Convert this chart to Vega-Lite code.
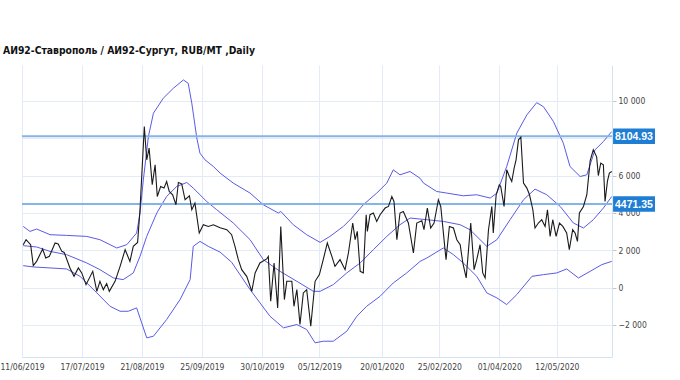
{
  "$schema": "https://vega.github.io/schema/vega-lite/v6.json",
  "width": 590,
  "height": 292,
  "autosize": {"type": "none"},
  "padding": {"left": 22, "top": 65, "right": 68, "bottom": 23},
  "background": "white",
  "config": {"view": {"stroke": null}, "font": "DejaVu Sans Condensed, Liberation Sans, sans-serif"},
  "title": {"text": "АИ92-Ставрополь / АИ92-Сургут,  RUB/MT ,Daily", "anchor": "start", "frame": "group", "dx": -19, "offset": 9, "fontSize": 10.3, "fontWeight": "bold", "color": "#111", "font": "DejaVu Sans Condensed, Liberation Sans, sans-serif"},
  "datasets": {
    "price": [
      {"i":0.5,"v":2298},{"i":1.7,"v":2566},{"i":3.6,"v":2298},{"i":4.7,"v":1176},{"i":6.1,"v":1406},{"i":8.6,"v":2068},{"i":9.9,"v":1587},{"i":11.4,"v":1673},{"i":13.8,"v":2389},{"i":15.1,"v":2336},{"i":16.6,"v":1940},{"i":17.6,"v":1887},{"i":20,"v":1053},{"i":21.7,"v":604},{"i":23.5,"v":1053},{"i":24.9,"v":786},{"i":26.7,"v":160},{"i":29.5,"v":871},{"i":31.2,"v":-198},{"i":32.5,"v":337},{"i":33.9,"v":-107},{"i":35.3,"v":214},{"i":36.4,"v":-198},{"i":38.8,"v":337},{"i":40.9,"v":1139},{"i":43,"v":2031},{"i":45,"v":1406},{"i":46.4,"v":2208},{"i":48.2,"v":2421},{"i":49.2,"v":4169},{"i":51,"v":8622},{"i":52,"v":6842},{"i":53,"v":7467},{"i":54.3,"v":5505},{"i":55.5,"v":6574},{"i":56.4,"v":4880},{"i":57.8,"v":5414},{"i":59.2,"v":5329},{"i":60.3,"v":5682},{"i":61.4,"v":5147},{"i":62.8,"v":4971},{"i":64.2,"v":4436},{"i":65.2,"v":5628},{"i":66.6,"v":5559},{"i":68,"v":4704},{"i":69.8,"v":4917},{"i":70.8,"v":4169},{"i":72.1,"v":4527},{"i":72.9,"v":3811},{"i":73.9,"v":2924},{"i":75.6,"v":3367},{"i":77.7,"v":3276},{"i":79.8,"v":3367},{"i":82.6,"v":3200},{"i":85.4,"v":3100},{"i":87.4,"v":2833},{"i":88.8,"v":2208},{"i":90.2,"v":1497},{"i":91.6,"v":962},{"i":93.7,"v":604},{"i":95.8,"v":-198},{"i":97.2,"v":786},{"i":99.2,"v":1320},{"i":102,"v":1534},{"i":102.7,"v":1673},{"i":103.7,"v":-732},{"i":105.1,"v":1320},{"i":106.6,"v":-1085},{"i":107.9,"v":3276},{"i":109.4,"v":-641},{"i":110.4,"v":337},{"i":112.5,"v":337},{"i":113.4,"v":-1000},{"i":114.6,"v":-107},{"i":115.9,"v":-1978},{"i":117.3,"v":-283},{"i":118.7,"v":-107},{"i":120.4,"v":-2068},{"i":122.2,"v":337},{"i":124,"v":695},{"i":125.6,"v":1497},{"i":127.3,"v":2389},{"i":129.2,"v":1673},{"i":130.5,"v":1139},{"i":132.6,"v":1497},{"i":134.7,"v":962},{"i":136.1,"v":1853},{"i":137.9,"v":3458},{"i":138.9,"v":2566},{"i":139.8,"v":3009},{"i":141,"v":871},{"i":142.3,"v":786},{"i":143.5,"v":3902},{"i":144,"v":3009},{"i":145.1,"v":3902},{"i":146.5,"v":3993},{"i":147.9,"v":3544},{"i":149.3,"v":3902},{"i":151.4,"v":4260},{"i":152.8,"v":4346},{"i":154.2,"v":4880},{"i":155.1,"v":4613},{"i":156.3,"v":2566},{"i":157.6,"v":3993},{"i":159,"v":4078},{"i":161.1,"v":3458},{"i":163.2,"v":1853},{"i":164.6,"v":3458},{"i":166.7,"v":3581},{"i":167.6,"v":3100},{"i":169,"v":4260},{"i":170.4,"v":3191},{"i":171.8,"v":3458},{"i":173.6,"v":4704},{"i":174.6,"v":4346},{"i":176.8,"v":1497},{"i":178.2,"v":3276},{"i":179.9,"v":3191},{"i":181.3,"v":2566},{"i":182.7,"v":2298},{"i":183.8,"v":1320},{"i":185.2,"v":518},{"i":187.1,"v":3458},{"i":188.5,"v":962},{"i":189.6,"v":1497},{"i":191,"v":2298},{"i":192.1,"v":786},{"i":193.1,"v":518},{"i":194.5,"v":3100},{"i":195.9,"v":4346},{"i":196.5,"v":2924},{"i":197.7,"v":4971},{"i":199,"v":5505},{"i":199.6,"v":5414},{"i":201,"v":4346},{"i":202.1,"v":6307},{"i":203.2,"v":5949},{"i":204.2,"v":5682},{"i":205.2,"v":6398},{"i":206,"v":6842},{"i":207,"v":7911},{"i":208,"v":8055},{"i":209.1,"v":5596},{"i":210.5,"v":5329},{"i":211.6,"v":4971},{"i":213,"v":4169},{"i":213.9,"v":3191},{"i":215.3,"v":3458},{"i":216.7,"v":3635},{"i":218.1,"v":3276},{"i":219.1,"v":4169},{"i":220.2,"v":2742},{"i":221.3,"v":3635},{"i":222.7,"v":2742},{"i":224.1,"v":3458},{"i":225.5,"v":3276},{"i":227.1,"v":2924},{"i":228.2,"v":2031},{"i":229.6,"v":3100},{"i":230.6,"v":2924},{"i":231.6,"v":2475},{"i":232.4,"v":3993},{"i":234.1,"v":4346},{"i":235.5,"v":4971},{"i":236.9,"v":6800},{"i":238.2,"v":7376},{"i":239.6,"v":7000},{"i":240.3,"v":6000},{"i":241.3,"v":6665},{"i":242.4,"v":6570},{"i":243.1,"v":4613},{"i":244.1,"v":5700},{"i":244.9,"v":6131},{"i":245.9,"v":6220}
    ],
    "bands": [
      {"s":"upper","i":0.5,"v":3276},{"s":"upper","i":3.3,"v":3009},{"s":"upper","i":6.1,"v":3137},{"s":"upper","i":11.7,"v":2833},{"s":"upper","i":18.6,"v":2796},{"s":"upper","i":27,"v":2742},{"s":"upper","i":32.5,"v":2566},{"s":"upper","i":39.5,"v":2122},{"s":"upper","i":43.7,"v":2298},{"s":"upper","i":47.8,"v":2924},{"s":"upper","i":49.2,"v":3993},{"s":"upper","i":50.6,"v":5773},{"s":"upper","i":52.7,"v":8087},{"s":"upper","i":54.8,"v":9338},{"s":"upper","i":58.9,"v":10140},{"s":"upper","i":63.1,"v":10674},{"s":"upper","i":67.3,"v":11118},{"s":"upper","i":69.3,"v":10941},{"s":"upper","i":70.8,"v":9872},{"s":"upper","i":72.9,"v":8001},{"s":"upper","i":74.2,"v":7199},{"s":"upper","i":76.3,"v":6842},{"s":"upper","i":79.8,"v":6484},{"s":"upper","i":82.6,"v":6131},{"s":"upper","i":88.1,"v":5596},{"s":"upper","i":95.1,"v":5062},{"s":"upper","i":100.6,"v":4436},{"s":"upper","i":106.9,"v":3993},{"s":"upper","i":107.9,"v":4078},{"s":"upper","i":113.1,"v":3367},{"s":"upper","i":118.7,"v":2833},{"s":"upper","i":124.3,"v":2421},{"s":"upper","i":128.4,"v":2742},{"s":"upper","i":134,"v":3276},{"s":"upper","i":137.5,"v":3725},{"s":"upper","i":142.3,"v":4436},{"s":"upper","i":147.9,"v":5062},{"s":"upper","i":152.1,"v":5596},{"s":"upper","i":154.8,"v":6307},{"s":"upper","i":157.6,"v":6040},{"s":"upper","i":161.8,"v":6217},{"s":"upper","i":166,"v":5850},{"s":"upper","i":167.4,"v":5596},{"s":"upper","i":172.9,"v":5147},{"s":"upper","i":177.1,"v":5062},{"s":"upper","i":184,"v":4917},{"s":"upper","i":189.6,"v":4971},{"s":"upper","i":195.2,"v":4794},{"s":"upper","i":198,"v":5062},{"s":"upper","i":202.1,"v":6484},{"s":"upper","i":206.3,"v":8269},{"s":"upper","i":210.5,"v":9247},{"s":"upper","i":214.6,"v":9904},{"s":"upper","i":217.4,"v":9690},{"s":"upper","i":221.6,"v":8889},{"s":"upper","i":225.7,"v":7734},{"s":"upper","i":228.5,"v":6484},{"s":"upper","i":232.7,"v":5949},{"s":"upper","i":235.5,"v":6040},{"s":"upper","i":238.9,"v":7376},{"s":"upper","i":242.4,"v":7820},{"s":"upper","i":245.9,"v":8354},
      {"s":"middle","i":0.5,"v":2245},{"s":"middle","i":6.1,"v":2175},{"s":"middle","i":11.7,"v":1940},{"s":"middle","i":18.6,"v":1764},{"s":"middle","i":27,"v":1320},{"s":"middle","i":32.5,"v":962},{"s":"middle","i":38.1,"v":518},{"s":"middle","i":42.2,"v":428},{"s":"middle","i":46.4,"v":786},{"s":"middle","i":49.2,"v":1673},{"s":"middle","i":52,"v":2742},{"s":"middle","i":56.2,"v":3993},{"s":"middle","i":60.3,"v":4880},{"s":"middle","i":64.5,"v":5414},{"s":"middle","i":68.7,"v":5628},{"s":"middle","i":71.4,"v":5329},{"s":"middle","i":77,"v":4613},{"s":"middle","i":81.2,"v":4169},{"s":"middle","i":88.1,"v":3458},{"s":"middle","i":95.1,"v":2566},{"s":"middle","i":100.6,"v":1497},{"s":"middle","i":107.6,"v":871},{"s":"middle","i":114.6,"v":337},{"s":"middle","i":121.5,"v":-198},{"s":"middle","i":124.3,"v":-198},{"s":"middle","i":129.8,"v":160},{"s":"middle","i":135.4,"v":786},{"s":"middle","i":141,"v":1320},{"s":"middle","i":146.5,"v":2031},{"s":"middle","i":152.1,"v":2742},{"s":"middle","i":157.6,"v":3367},{"s":"middle","i":161.8,"v":3725},{"s":"middle","i":168.8,"v":3635},{"s":"middle","i":175.7,"v":3544},{"s":"middle","i":182.7,"v":3367},{"s":"middle","i":186.8,"v":3100},{"s":"middle","i":191,"v":2566},{"s":"middle","i":193.8,"v":2208},{"s":"middle","i":198,"v":2566},{"s":"middle","i":203.5,"v":3635},{"s":"middle","i":209.1,"v":4704},{"s":"middle","i":213.9,"v":5275},{"s":"middle","i":218.8,"v":4971},{"s":"middle","i":224.4,"v":4346},{"s":"middle","i":229.9,"v":3458},{"s":"middle","i":234.1,"v":3191},{"s":"middle","i":238.2,"v":3635},{"s":"middle","i":242.4,"v":4260},{"s":"middle","i":245.9,"v":4880},
      {"s":"lower","i":0.5,"v":1176},{"s":"lower","i":4.7,"v":1106},{"s":"lower","i":11.7,"v":1053},{"s":"lower","i":18.6,"v":1000},{"s":"lower","i":24.2,"v":604},{"s":"lower","i":31.2,"v":-283},{"s":"lower","i":36.7,"v":-1000},{"s":"lower","i":40.9,"v":-1267},{"s":"lower","i":44.3,"v":-1267},{"s":"lower","i":47.8,"v":-1085},{"s":"lower","i":49.9,"v":-1887},{"s":"lower","i":52,"v":-2689},{"s":"lower","i":54.8,"v":-2603},{"s":"lower","i":60.3,"v":-1710},{"s":"lower","i":65.9,"v":-641},{"s":"lower","i":70.1,"v":428},{"s":"lower","i":71.4,"v":2208},{"s":"lower","i":74.2,"v":2475},{"s":"lower","i":77.7,"v":2208},{"s":"lower","i":82.6,"v":1900},{"s":"lower","i":87.4,"v":1360},{"s":"lower","i":95.1,"v":-107},{"s":"lower","i":103.4,"v":-1534},{"s":"lower","i":109,"v":-2154},{"s":"lower","i":114.6,"v":-1978},{"s":"lower","i":118.7,"v":-2245},{"s":"lower","i":122.2,"v":-2956},{"s":"lower","i":125.6,"v":-2870},{"s":"lower","i":129.8,"v":-2870},{"s":"lower","i":135.4,"v":-2336},{"s":"lower","i":139.6,"v":-1534},{"s":"lower","i":143.7,"v":-1000},{"s":"lower","i":149.3,"v":-465},{"s":"lower","i":154.8,"v":251},{"s":"lower","i":160.4,"v":786},{"s":"lower","i":166,"v":1406},{"s":"lower","i":168.8,"v":1587},{"s":"lower","i":175.7,"v":2122},{"s":"lower","i":179.9,"v":1764},{"s":"lower","i":184,"v":1320},{"s":"lower","i":189.6,"v":604},{"s":"lower","i":193.8,"v":-283},{"s":"lower","i":198,"v":-551},{"s":"lower","i":202.1,"v":-909},{"s":"lower","i":206.3,"v":-374},{"s":"lower","i":212.6,"v":604},{"s":"lower","i":217.4,"v":695},{"s":"lower","i":223,"v":786},{"s":"lower","i":227.1,"v":1000},{"s":"lower","i":232,"v":518},{"s":"lower","i":236.9,"v":871},{"s":"lower","i":241.7,"v":1229},{"s":"lower","i":245.9,"v":1406}
    ],
    "levels": [{"level": 8104.93}, {"level": 4471.35}]
  },
  "layer": [
    {
      "data": {"name": "bands"},
      "mark": {"type": "line", "color": "#5a5ae6", "strokeWidth": 1, "clip": true},
      "encoding": {
        "x": {"field": "i", "type": "quantitative", "scale": {"domain": [0, 246], "nice": false, "zero": false},
          "axis": {"orient": "bottom", "values": [0, 25, 50, 75, 100, 124, 150, 174, 199, 223], "title": null, "grid": true, "gridColor": "#e3ecf6", "ticks": false, "domainColor": "#d5e3f1", "labelPadding": 5, "labelFontSize": 8.5, "labelColor": "#444", "labelFlush": false, "labelOverlap": false, "labelBound": false,
            "labelExpr": "datum.value==0?'11/06/2019':datum.value==25?'17/07/2019':datum.value==50?'21/08/2019':datum.value==75?'25/09/2019':datum.value==100?'30/10/2019':datum.value==124?'05/12/2019':datum.value==150?'20/01/2020':datum.value==174?'25/02/2020':datum.value==199?'01/04/2020':'12/05/2020'"}},
        "y": {"field": "v", "type": "quantitative", "scale": {"domain": [-3715, 11919], "nice": false, "zero": false},
          "axis": {"orient": "right", "values": [-2000, 0, 2000, 4000, 6000, 8000, 10000], "title": null, "grid": true, "gridColor": "#e3ecf6", "domainColor": "#d5e3f1", "tickColor": "#b8c8d8", "tickSize": 4, "labelPadding": 2, "labelFontSize": 8.5, "labelColor": "#444", "labelExpr": "datum.value==8000?'':replace(format(datum.value, ','), ',', ' ')"}},
        "detail": {"field": "s", "type": "nominal"}
      }
    },
    {
      "data": {"name": "levels"},
      "mark": {"type": "rule", "color": "#85b5e6", "strokeWidth": 2},
      "encoding": {"y": {"field": "level", "type": "quantitative",
          "axis": {"orient": "right", "values": [-2000, 0, 2000, 4000, 6000, 8000, 10000], "title": null, "grid": true, "gridColor": "#e3ecf6", "domainColor": "#d5e3f1", "tickColor": "#b8c8d8", "tickSize": 4, "labelPadding": 2, "labelFontSize": 8.5, "labelColor": "#444", "labelExpr": "datum.value==8000?'':replace(format(datum.value, ','), ',', ' ')"}}}
    },
    {
      "data": {"name": "price"},
      "mark": {"type": "line", "color": "#1a1a1a", "strokeWidth": 1.1, "clip": true},
      "encoding": {
        "x": {"field": "i", "type": "quantitative",
          "axis": {"orient": "bottom", "values": [0, 25, 50, 75, 100, 124, 150, 174, 199, 223], "title": null, "grid": true, "gridColor": "#e3ecf6", "ticks": false, "domainColor": "#d5e3f1", "labelPadding": 5, "labelFontSize": 8.5, "labelColor": "#444", "labelFlush": false, "labelOverlap": false, "labelBound": false,
            "labelExpr": "datum.value==0?'11/06/2019':datum.value==25?'17/07/2019':datum.value==50?'21/08/2019':datum.value==75?'25/09/2019':datum.value==100?'30/10/2019':datum.value==124?'05/12/2019':datum.value==150?'20/01/2020':datum.value==174?'25/02/2020':datum.value==199?'01/04/2020':'12/05/2020'"}},
        "y": {"field": "v", "type": "quantitative",
          "axis": {"orient": "right", "values": [-2000, 0, 2000, 4000, 6000, 8000, 10000], "title": null, "grid": true, "gridColor": "#e3ecf6", "domainColor": "#d5e3f1", "tickColor": "#b8c8d8", "tickSize": 4, "labelPadding": 2, "labelFontSize": 8.5, "labelColor": "#444", "labelExpr": "datum.value==8000?'':replace(format(datum.value, ','), ',', ' ')"}}
      }
    },
    {
      "data": {"name": "levels"},
      "mark": {"type": "point", "shape": "M0.05,-0.36L2,-0.36L2,0.36L0.05,0.36Z", "size": 1849, "filled": true, "color": "#1e7ed4", "opacity": 1, "strokeWidth": 0, "clip": false},
      "encoding": {
        "x": {"value": "width"},
        "y": {"field": "level", "type": "quantitative",
          "axis": {"orient": "right", "values": [-2000, 0, 2000, 4000, 6000, 8000, 10000], "title": null, "grid": true, "gridColor": "#e3ecf6", "domainColor": "#d5e3f1", "tickColor": "#b8c8d8", "tickSize": 4, "labelPadding": 2, "labelFontSize": 8.5, "labelColor": "#444", "labelExpr": "datum.value==8000?'':replace(format(datum.value, ','), ',', ' ')"}}
      }
    },
    {
      "data": {"name": "levels"},
      "mark": {"type": "text", "align": "left", "baseline": "middle", "dx": 3, "dy": 0.5, "color": "white", "fontWeight": "bold", "fontSize": 10.5, "font": "Liberation Sans, sans-serif", "clip": false},
      "encoding": {
        "x": {"value": "width"},
        "y": {"field": "level", "type": "quantitative",
          "axis": {"orient": "right", "values": [-2000, 0, 2000, 4000, 6000, 8000, 10000], "title": null, "grid": true, "gridColor": "#e3ecf6", "domainColor": "#d5e3f1", "tickColor": "#b8c8d8", "tickSize": 4, "labelPadding": 2, "labelFontSize": 8.5, "labelColor": "#444", "labelExpr": "datum.value==8000?'':replace(format(datum.value, ','), ',', ' ')"}},
        "text": {"field": "level", "type": "quantitative", "format": ".2f"}
      }
    }
  ]
}
